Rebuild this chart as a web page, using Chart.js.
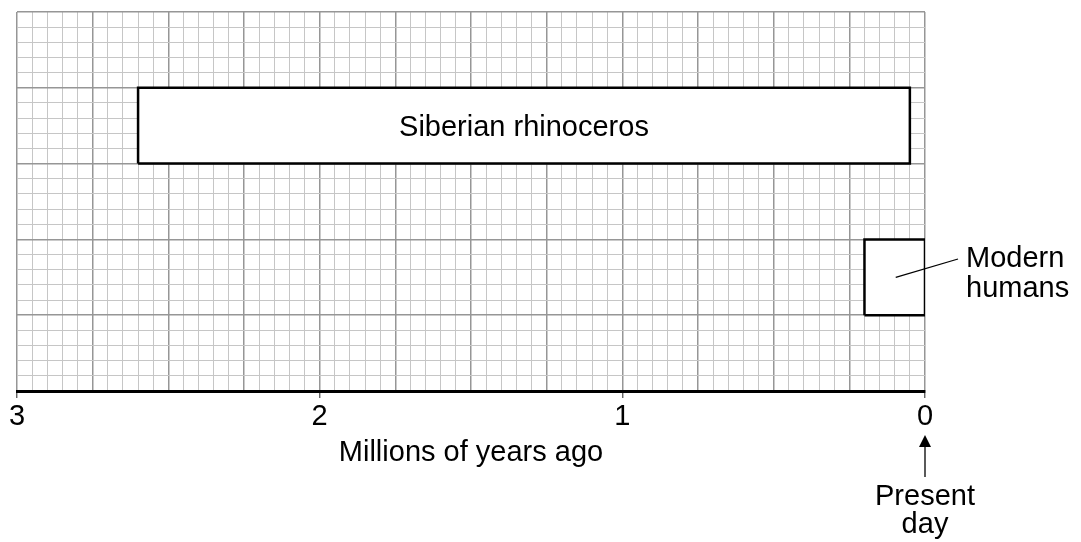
<!DOCTYPE html>
<html>
<head>
<meta charset="utf-8">
<script src="https://cdn.jsdelivr.net/npm/chart.js@4.4.1/dist/chart.umd.min.js"></script>
<style>
  html, body { margin: 0; padding: 0; background: #ffffff; }
  #wrap { width: 1081px; height: 542px; position: relative; }
</style>
</head>
<body>
<div id="wrap"><canvas id="c" width="1081" height="542"></canvas></div>
<script>
// ---- data ----
const speciesNames = ['Siberian rhinoceros', 'Modern humans'];
const rangeStartMya = [2.6, 0.2];   // millions of years ago (older end)
const rangeEndMya = [0.05, 0];      // millions of years ago (recent end)
const rowLow = [3, 1];              // vertical band (grid rows) of each box
const rowHigh = [4, 2];
const xTickLabels = ['3', '2', '1', '0'];
const xAxisTitle = 'Millions of years ago';
const presentLabel = ['Present', 'day'];

const FONT = '"Liberation Sans", Arial, Helvetica, sans-serif';
const FS = 29;

function isMult(v, step) {
  const r = v / step;
  return Math.abs(r - Math.round(r)) < 1e-6;
}

function boxPoints(i) {
  return [
    { x: rangeStartMya[i], y: rowLow[i] },
    { x: rangeEndMya[i], y: rowLow[i] },
    { x: rangeEndMya[i], y: rowHigh[i] },
    { x: rangeStartMya[i], y: rowHigh[i] },
    { x: rangeStartMya[i], y: rowLow[i] }
  ];
}

const datasets = speciesNames.map((name, i) => ({
  label: name,
  data: boxPoints(i),
  showLine: true,
  fill: 'shape',
  backgroundColor: '#ffffff',
  borderColor: '#000000',
  borderWidth: 2.5,
  pointRadius: 0,
  tension: 0
}));

const annotations = {
  id: 'annotations',
  afterDraw(chart) {
    const ctx = chart.ctx;
    const xs = chart.scales.x, ys = chart.scales.y;
    ctx.save();
    ctx.fillStyle = '#000';
    ctx.strokeStyle = '#000';
    ctx.font = FS + 'px ' + FONT;

    // Siberian rhinoceros label (inside its box)
    const cx0 = (xs.getPixelForValue(rangeStartMya[0]) + xs.getPixelForValue(rangeEndMya[0])) / 2;
    const cy0 = ys.getPixelForValue((rowLow[0] + rowHigh[0]) / 2);
    ctx.textAlign = 'center';
    ctx.textBaseline = 'alphabetic';
    ctx.fillText(speciesNames[0], cx0, cy0 + 10.5);

    // Modern humans label (outside, with leader line)
    const hx = xs.getPixelForValue((rangeStartMya[1] + rangeEndMya[1]) / 2);
    const hy = ys.getPixelForValue((rowLow[1] + rowHigh[1]) / 2);
    ctx.lineWidth = 1.3;
    ctx.beginPath();
    ctx.moveTo(hx + 1, hy);
    ctx.lineTo(958, 259);
    ctx.stroke();
    ctx.textAlign = 'left';
    const parts = speciesNames[1].split(' ');
    ctx.fillText(parts[0], 966, 267);
    ctx.fillText(parts[1], 966, 297);

    // axis title
    ctx.textAlign = 'center';
    ctx.fillText(xAxisTitle, (chart.chartArea.left + chart.chartArea.right) / 2, 461);

    // Present day arrow
    const px = xs.getPixelForValue(0);
    ctx.lineWidth = 1.3;
    ctx.beginPath();
    ctx.moveTo(px, 477);
    ctx.lineTo(px, 444);
    ctx.stroke();
    ctx.beginPath();
    ctx.moveTo(px, 435);
    ctx.lineTo(px - 6, 447);
    ctx.lineTo(px + 6, 447);
    ctx.closePath();
    ctx.fill();
    ctx.fillText(presentLabel[0], px, 505);
    ctx.fillText(presentLabel[1], px, 533);
    ctx.restore();
  }
};

new Chart(document.getElementById('c'), {
  type: 'scatter',
  data: { datasets },
  options: {
    responsive: false,
    animation: false,
    devicePixelRatio: 1,
    layout: { padding: { left: 17, right: 156, top: 12, bottom: 0 } },
    plugins: { legend: { display: false }, tooltip: { enabled: false }, title: { display: false } },
    scales: {
      x: {
        type: 'linear',
        reverse: true,
        min: 0,
        max: 3,
        afterFit(s) { s.height = 151; },
        border: { display: true, color: '#000', width: 3 },
        grid: {
          drawTicks: true,
          tickLength: 7,
          color: (c) => isMult(c.tick.value, 0.25) ? '#969696' : '#c6c6c6',
          lineWidth: (c) => isMult(c.tick.value, 0.25) ? 1.5 : 1,
          tickColor: (c) => isMult(c.tick.value, 1) ? '#555' : 'rgba(0,0,0,0)',
          tickWidth: 1.3
        },
        ticks: {
          stepSize: 0.05,
          autoSkip: false,
          maxTicksLimit: 1000,
          maxRotation: 0,
          minRotation: 0,
          padding: 2,
          color: '#000',
          font: { family: FONT, size: FS },
          callback: (v) => isMult(v, 1) ? xTickLabels[3 - Math.round(v)] : ''
        }
      },
      y: {
        type: 'linear',
        min: 0,
        max: 5,
        afterFit(s) { s.width = 0; },
        border: { display: false },
        grid: {
          drawTicks: false,
          color: (c) => isMult(c.tick.value, 1) ? '#969696' : '#c6c6c6',
          lineWidth: (c) => isMult(c.tick.value, 1) ? 1.5 : 1
        },
        ticks: {
          display: false,
          stepSize: 0.2,
          autoSkip: false,
          maxTicksLimit: 1000
        }
      }
    }
  },
  plugins: [annotations]
});
</script>
</body>
</html>
